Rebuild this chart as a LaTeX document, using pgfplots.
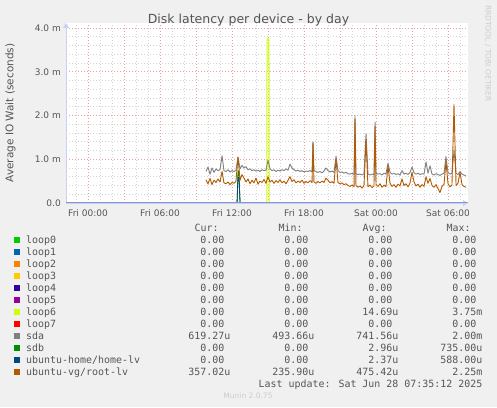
\documentclass[border=0pt]{standalone}
\usepackage{pgfplots}
\pgfplotsset{compat=1.18}
\usepackage{fontspec}
\setmainfont{DejaVu Sans}
\newfontfamily\mono{DejaVu Sans Mono}
\usetikzlibrary{arrows.meta}

\definecolor{bgcol}{HTML}{F0F0F0}
\definecolor{labcol}{HTML}{555555}
\definecolor{wmcol}{HTML}{CCCCCC}
\definecolor{axiscol}{HTML}{C8D0F4}
\definecolor{zerocol}{HTML}{8A94CC}
\definecolor{majgrid}{HTML}{EBA0A0}
\definecolor{mingrid}{HTML}{D4D4D4}
\definecolor{cloopa}{HTML}{00CC00}
\definecolor{cloopb}{HTML}{0066B3}
\definecolor{cloopc}{HTML}{FF8000}
\definecolor{cloopd}{HTML}{FFCC00}
\definecolor{cloope}{HTML}{330099}
\definecolor{cloopf}{HTML}{990099}
\definecolor{cloopg}{HTML}{CCFF00}
\definecolor{clooph}{HTML}{FF0000}
\definecolor{csda}{HTML}{808080}
\definecolor{csdb}{HTML}{008F00}
\definecolor{chome}{HTML}{00487D}
\definecolor{croot}{HTML}{B35A00}

% one legend row: row number, colour, name, cur, min, avg, max
\newcommand{\legrow}[7]{%
  \pgfmathsetmacro{\yy}{407-243.3-12*(#1-1)}
  \fill[#2] (14pt,\yy pt+0.6pt) rectangle +(6pt,6pt);
  \node[anchor=base west,inner sep=0pt] at (26pt,\yy pt) {#3};
  \node[anchor=base east,inner sep=0pt] at (230.5pt,\yy pt) {#4};
  \node[anchor=base east,inner sep=0pt] at (314.5pt,\yy pt) {#5};
  \node[anchor=base east,inner sep=0pt] at (398.5pt,\yy pt) {#6};
  \node[anchor=base east,inner sep=0pt] at (482.5pt,\yy pt) {#7};
}
\newcommand{\nou}{\phantom{u}}

\begin{document}
\begin{tikzpicture}
\useasboundingbox (0,0) rectangle (497pt,407pt);
\fill[bgcol] (0,0) rectangle (497pt,407pt);

\begin{axis}[
    at={(66pt,204pt)}, anchor=south west,
    scale only axis,
    width=402pt, height=180pt,
    xmin=-1.8333, xmax=31.6667,
    ymin=0, ymax=4.1143,
    axis background/.style={fill=white},
    axis lines=left,
    axis line style={draw=axiscol, line width=0.8pt},
    every outer x axis line/.append style={-{Triangle[width=6pt,length=5pt]}},
    every outer y axis line/.append style={-{Triangle[width=6pt,length=5pt]}},
    xtick={0,3,...,30},
    xticklabels={Fri 00:00,,Fri 06:00,,Fri 12:00,,Fri 18:00,,Sat 00:00,,Sat 06:00,},
    minor xtick={-1,1,2,4,5,7,8,10,11,13,14,16,17,19,20,22,23,25,26,28,29,31},
    ytick={0,1,2,3,4},
    yticklabels={0.0,1.0 m,2.0 m,3.0 m,4.0 m},
    minor ytick={0.2,0.4,0.6,0.8,1.2,1.4,1.6,1.8,2.2,2.4,2.6,2.8,3.2,3.4,3.6,3.8},
    grid=both,
    major grid style={draw=majgrid, line width=0.8pt, dash pattern=on 1pt off 2pt},
    minor grid style={draw=mingrid, line width=0.8pt, dash pattern=on 1pt off 2pt},
    major tick length=0pt, minor tick length=0pt,
    ticklabel style={font=\fontsize{9}{10}\selectfont, text=labcol},
    xticklabel style={anchor=base, yshift=-13pt, inner sep=0pt},
    yticklabel style={anchor=east, xshift=-5pt, inner sep=0pt},
    every axis plot/.append style={mark=none, line join=round, line width=0.8pt},
]

% loop0 .. loop5, loop7: zero all day
\addplot[cloopa] coordinates {(9.83,0) (31.5,0)};
\addplot[cloopb] coordinates {(9.83,0) (31.5,0)};
\addplot[cloopc] coordinates {(9.83,0) (31.5,0)};
\addplot[cloopd] coordinates {(9.83,0) (31.5,0)};
\addplot[cloope] coordinates {(9.83,0) (31.5,0)};
\addplot[cloopf] coordinates {(9.83,0) (31.5,0)};
% loop6
\addplot[cloopg, line width=1pt] coordinates {
  (9.83,0) (14.90,0) (14.92,3.75) (15.0,3.75) (15.08,3.75) (15.10,0) (31.5,0)
};
\addplot[clooph] coordinates {(9.83,0) (31.5,0)};

% sda
\addplot[csda, line width=0.9pt] coordinates {
  (9.83,0.72) (10.00,0.82) (10.17,0.66) (10.33,0.80) (10.50,0.70) (10.67,0.78)
  (10.83,0.74) (11.00,0.76) (11.17,1.08) (11.33,0.74) (11.50,0.72) (11.67,0.76)
  (11.83,0.71) (12.00,0.74) (12.17,0.72) (12.33,0.75) (12.50,1.05) (12.67,0.78)
  (12.83,0.86) (13.00,0.80) (13.17,0.83) (13.33,0.76) (13.50,0.78) (13.67,0.74)
  (13.83,0.76) (14.00,0.73) (14.17,0.75) (14.33,0.72) (14.50,0.76) (14.67,0.74)
  (14.83,0.75) (15.00,0.98) (15.17,0.78) (15.33,0.74) (15.50,0.76) (15.67,0.72)
  (15.83,0.75) (16.00,0.73) (16.17,0.76) (16.33,0.74) (16.50,0.78) (16.67,0.75)
  (16.83,0.89) (17.00,0.80) (17.17,0.76) (17.33,0.73) (17.50,0.75) (17.67,0.72)
  (17.83,0.74) (18.00,0.71) (18.17,0.73) (18.33,0.72) (18.50,0.74) (18.67,0.71)
  (18.75,1.40) (18.83,0.74) (19.00,0.72) (19.17,0.70) (19.33,0.72) (19.50,0.69)
  (19.67,0.73) (19.83,0.80) (20.00,0.74) (20.17,0.71) (20.33,0.73) (20.50,0.70)
  (20.67,1.07) (20.83,0.74) (21.00,0.70) (21.17,0.71) (21.33,0.68) (21.50,0.70)
  (21.67,0.67) (21.83,0.66) (22.00,0.68) (22.17,0.65) (22.25,2.00) (22.33,0.67)
  (22.50,0.65) (22.67,0.66) (22.83,0.64) (23.00,0.67) (23.17,1.58) (23.33,0.66)
  (23.50,0.64) (23.67,0.66) (23.83,0.65) (23.92,1.85) (24.00,0.68) (24.17,0.66)
  (24.33,0.67) (24.50,0.64) (24.67,0.68) (24.83,0.66) (25.00,0.91) (25.17,0.70)
  (25.33,0.66) (25.50,0.68) (25.67,0.65) (25.83,0.67) (26.00,0.64) (26.17,0.74)
  (26.33,0.66) (26.50,0.68) (26.67,0.65) (26.83,0.70) (27.00,0.82) (27.17,0.69)
  (27.33,0.66) (27.50,0.68) (27.67,0.65) (27.83,0.67) (28.00,0.66) (28.17,0.94)
  (28.33,0.68) (28.50,0.85) (28.67,0.66) (28.83,0.64) (29.00,0.67) (29.17,0.65)
  (29.33,0.63) (29.50,0.66) (29.67,0.68) (29.83,1.06) (30.00,0.70) (30.17,0.66)
  (30.33,0.68) (30.50,1.20) (30.67,0.68) (30.83,0.65) (31.00,0.72) (31.17,0.66)
  (31.33,0.64) (31.50,0.62)
};

% sdb
\addplot[csdb] coordinates {
  (9.83,0) (12.42,0) (12.5,0.735) (12.58,0.735) (12.67,0) (31.5,0)
};
% ubuntu-home/home-lv
\addplot[chome] coordinates {
  (9.83,0) (12.42,0) (12.5,0.588) (12.58,0.588) (12.67,0) (31.5,0)
};

% ubuntu-vg/root-lv
\addplot[croot, line width=0.9pt] coordinates {
  (9.83,0.53) (10.00,0.44) (10.17,0.56) (10.33,0.42) (10.50,0.52) (10.67,0.47)
  (10.83,0.55) (11.00,0.48) (11.17,0.72) (11.33,0.46) (11.50,0.44) (11.67,0.48)
  (11.83,0.42) (12.00,0.47) (12.17,0.45) (12.33,0.50) (12.50,1.05) (12.67,0.52)
  (12.83,0.65) (13.00,0.57) (13.17,0.48) (13.33,0.55) (13.50,0.44) (13.67,0.52)
  (13.83,0.46) (14.00,0.57) (14.17,0.43) (14.33,0.50) (14.50,0.47) (14.67,0.54)
  (14.83,0.45) (15.00,0.60) (15.17,0.48) (15.33,0.52) (15.50,0.45) (15.67,0.51)
  (15.83,0.47) (16.00,0.53) (16.17,0.46) (16.33,0.50) (16.50,0.44) (16.67,0.52)
  (16.83,0.60) (17.00,0.49) (17.17,0.53) (17.33,0.46) (17.50,0.50) (17.67,0.47)
  (17.83,0.52) (18.00,0.45) (18.17,0.49) (18.33,0.46) (18.50,0.51) (18.67,0.47)
  (18.75,1.38) (18.83,0.48) (19.00,0.45) (19.17,0.49) (19.33,0.46) (19.50,0.50)
  (19.67,0.47) (19.83,0.57) (20.00,0.52) (20.17,0.46) (20.33,0.49) (20.50,0.45)
  (20.67,1.00) (20.83,0.47) (21.00,0.44) (21.17,0.46) (21.33,0.42) (21.50,0.44)
  (21.67,0.40) (21.83,0.38) (22.00,0.41) (22.17,0.37) (22.25,1.92) (22.33,0.40)
  (22.50,0.36) (22.67,0.39) (22.83,0.34) (23.00,0.40) (23.17,1.45) (23.33,0.37)
  (23.50,0.41) (23.67,0.35) (23.83,0.39) (23.92,1.75) (24.00,0.42) (24.17,0.38)
  (24.33,0.44) (24.50,0.36) (24.67,0.41) (24.83,0.37) (25.00,0.85) (25.17,0.45)
  (25.33,0.38) (25.50,0.42) (25.67,0.36) (25.83,0.43) (26.00,0.39) (26.17,0.55)
  (26.33,0.40) (26.50,0.44) (26.67,0.37) (26.83,0.45) (27.00,0.70) (27.17,0.48)
  (27.33,0.39) (27.50,0.43) (27.67,0.36) (27.83,0.42) (28.00,0.38) (28.17,0.60)
  (28.33,0.45) (28.50,0.56) (28.67,0.40) (28.83,0.36) (29.00,0.42) (29.17,0.33)
  (29.33,0.24) (29.50,0.38) (29.67,0.43) (29.83,0.95) (30.00,0.44) (30.17,0.37)
  (30.33,0.41) (30.50,2.25) (30.67,0.40) (30.83,0.45) (31.00,0.70) (31.17,0.42)
  (31.33,0.38) (31.50,0.36)
};

% the x axis line as it shows where the zero series run
\draw[zerocol, line width=1.2pt] (axis cs:-1.8333,0) -- (axis cs:31.6667,0);
\end{axis}

% title, axis label, watermark
\node[anchor=base, text=labcol, inner sep=0pt, font=\fontsize{12.5}{14}\selectfont]
  at (248.5pt,383pt) {Disk latency per device - by day};
\node[rotate=90, text=labcol, inner sep=0pt, font=\fontsize{10.5}{12}\selectfont]
  at (10.5pt,294pt) {Average IO Wait (seconds)};
\node[rotate=-90, anchor=west, text=wmcol, inner sep=0pt, font=\fontsize{7.5}{9}\selectfont]
  at (488pt,402pt) {RRDTOOL / TOBI OETIKER};

% legend block
\begin{scope}[text=labcol, font=\mono\fontsize{9.95}{12}\selectfont]
\node[anchor=base west,inner sep=0pt] at (194.5pt,175.7pt) {Cur:};
\node[anchor=base west,inner sep=0pt] at (278.5pt,175.7pt) {Min:};
\node[anchor=base west,inner sep=0pt] at (362.5pt,175.7pt) {Avg:};
\node[anchor=base west,inner sep=0pt] at (446.5pt,175.7pt) {Max:};
\legrow{1}{cloopa}{loop0}{0.00\nou}{0.00\nou}{0.00\nou}{0.00\nou}
\legrow{2}{cloopb}{loop1}{0.00\nou}{0.00\nou}{0.00\nou}{0.00\nou}
\legrow{3}{cloopc}{loop2}{0.00\nou}{0.00\nou}{0.00\nou}{0.00\nou}
\legrow{4}{cloopd}{loop3}{0.00\nou}{0.00\nou}{0.00\nou}{0.00\nou}
\legrow{5}{cloope}{loop4}{0.00\nou}{0.00\nou}{0.00\nou}{0.00\nou}
\legrow{6}{cloopf}{loop5}{0.00\nou}{0.00\nou}{0.00\nou}{0.00\nou}
\legrow{7}{cloopg}{loop6}{0.00\nou}{0.00\nou}{14.69u}{3.75m}
\legrow{8}{clooph}{loop7}{0.00\nou}{0.00\nou}{0.00\nou}{0.00\nou}
\legrow{9}{csda}{sda}{619.27u}{493.66u}{741.56u}{2.00m}
\legrow{10}{csdb}{sdb}{0.00\nou}{0.00\nou}{2.96u}{735.00u}
\legrow{11}{chome}{ubuntu-home/home-lv}{0.00\nou}{0.00\nou}{2.37u}{588.00u}
\legrow{12}{croot}{ubuntu-vg/root-lv}{357.02u}{235.90u}{475.42u}{2.25m}
\node[anchor=base east,inner sep=0pt] at (482.5pt,19.7pt) {Last update: Sat Jun 28 07:35:12 2025};
\end{scope}
\node[anchor=base, text=wmcol, inner sep=0pt, font=\fontsize{7.5}{9}\selectfont]
  at (248pt,8.7pt) {Munin 2.0.75};
\end{tikzpicture}
\end{document}
